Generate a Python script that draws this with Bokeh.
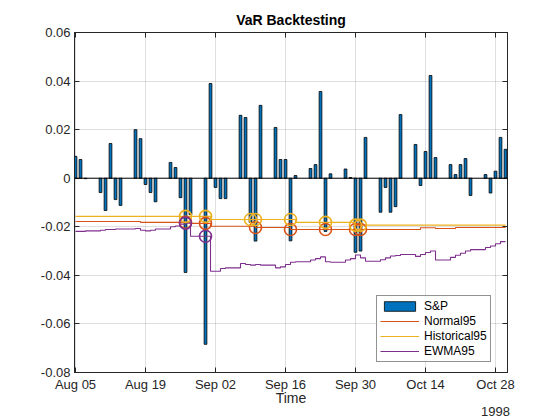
import numpy as np
import pandas as pd
from bokeh.plotting import figure
from bokeh.models import (Range1d, FixedTicker, DatetimeTickFormatter, LinearAxis, DatetimeAxis,
                          Span, Legend, LegendItem, CustomJSTickFormatter)
from bokeh.embed import file_html
from bokeh.resources import INLINE

# ---------------- data ----------------
dates = ["1998-08-05", "1998-08-06", "1998-08-07", "1998-08-10", "1998-08-11", "1998-08-12",
         "1998-08-13", "1998-08-14", "1998-08-17", "1998-08-18", "1998-08-19", "1998-08-20",
         "1998-08-21", "1998-08-24", "1998-08-25", "1998-08-26", "1998-08-27", "1998-08-28",
         "1998-08-31",
         "1998-09-01", "1998-09-02", "1998-09-03", "1998-09-04", "1998-09-07", "1998-09-08",
         "1998-09-09", "1998-09-10", "1998-09-11", "1998-09-14", "1998-09-15", "1998-09-16",
         "1998-09-17", "1998-09-18", "1998-09-21", "1998-09-22", "1998-09-23", "1998-09-24",
         "1998-09-25", "1998-09-28", "1998-09-29", "1998-09-30",
         "1998-10-01", "1998-10-02", "1998-10-05", "1998-10-06", "1998-10-07", "1998-10-08",
         "1998-10-09", "1998-10-12", "1998-10-13", "1998-10-14", "1998-10-15", "1998-10-16",
         "1998-10-19", "1998-10-20", "1998-10-21", "1998-10-22", "1998-10-23", "1998-10-26",
         "1998-10-27", "1998-10-28", "1998-10-29", "1998-10-30"]

returns = [0.0090, 0.0077, -0.0002, -0.0059, -0.0133, 0.0143, -0.0088, -0.0112, 0.0200, 0.0163,
           -0.0026, -0.0059, -0.0097, 0.0065, 0.0044, -0.0080, -0.0388, -0.0150, -0.0684,
           0.0390, -0.0038, -0.0084, -0.0084, 0.0259, 0.0250, -0.0182, -0.0259, 0.0300, 0.0209,
           0.0077, 0.0077, -0.0258, 0.0011, 0.0040, 0.0056, 0.0357, -0.0219, 0.0018, 0.0038,
           0.0003, -0.0305,
           -0.0300, 0.0168, -0.0140, -0.0038, -0.0140, -0.0117, 0.0262, 0.0139, -0.0030, 0.0110,
           0.0423, 0.0085, 0.0056, 0.0015, 0.0056, 0.0081, -0.0071, 0.0015, -0.0061, 0.0029,
           0.0168, 0.0119]

normal95 = ([-0.0178] * 9 + [-0.0182] * 8 + [-0.0186] * 2 + [-0.0198] * 7 + [-0.0203] * 5 +
            [-0.0211] * 18 + [-0.0204] * 3 + [-0.0207] * 2 + [-0.0203] * 9)

historical95 = [-0.0157] * 19 + [-0.0170] * 13 + [-0.0182] * 8 + [-0.0193] * 23

ewma95 = [-0.0219, -0.0219, -0.0217, -0.0214, -0.0211, -0.0211, -0.0209, -0.0209, -0.0207,
          -0.0214, -0.0217, -0.0214, -0.0209, -0.0200, -0.0197, -0.0189, -0.0185, -0.0239,
          -0.0239,
          -0.0383, -0.0383, -0.0372, -0.0369, -0.0351, -0.0355, -0.0358, -0.0355, -0.0358,
          -0.0369, -0.0365, -0.0355, -0.0346, -0.0344, -0.0337, -0.0331, -0.0324, -0.0344,
          -0.0346, -0.0337, -0.0331, -0.0316,
          -0.0328, -0.0342, -0.0336, -0.0328, -0.0320, -0.0318, -0.0314, -0.0322, -0.0314,
          -0.0306, -0.0300, -0.0337, -0.0326, -0.0317, -0.0309, -0.0300, -0.0294, -0.0285,
          -0.0279, -0.0270, -0.0261, -0.0261]

series_names = ["S&P", "Normal95", "Historical95", "EWMA95"]
xtick_dates = ["1998-08-05", "1998-08-19", "1998-09-02", "1998-09-16", "1998-09-30",
               "1998-10-14", "1998-10-28"]
year_tick_date = "1998-10-28"
ytick_values = [-0.08, -0.06, -0.04, -0.02, 0, 0.02, 0.04, 0.06]
ytick_labels = ["-0.08", "-0.06", "-0.04", "-0.02", "0", "0.02", "0.04", "0.06"]
title_text = "VaR Backtesting"
x_label = "Time"

# ---------------- styling ----------------
FONT = "Liberation Sans"
AX = "#262626"
C_BAR = "#0072BD"
C_NORM = "#D95319"
C_HIST = "#EDB120"
C_EWMA = "#7E2F8E"
DAY = 86400000.0


def ms(s):
    return pd.Timestamp(s).value / 1e6


dt = pd.to_datetime(dates)
x_ms = np.array([ms(d) for d in dates])
r = np.array(returns)

p = figure(width=560, height=420, x_axis_type="datetime", output_backend="svg",
           toolbar_location=None, min_border_left=74, min_border_right=53,
           min_border_top=32, min_border_bottom=48,
           x_range=Range1d(x_ms[0] - 0.2 * DAY, x_ms[-1] + 0.4 * DAY),
           y_range=Range1d(ytick_values[0], ytick_values[-1]))

p.title.text = title_text
p.title.align = "center"
p.title.text_font = FONT
p.title.text_font_size = "14px"
p.title.text_font_style = "bold"
p.title.text_color = "black"
p.title.offset = 0
p.title.standoff = 10

xticker = FixedTicker(ticks=[ms(d) for d in xtick_dates])
yticker = FixedTicker(ticks=ytick_values)
yfmt = CustomJSTickFormatter(args=dict(vals=ytick_values, labs=ytick_labels), code="""
    for (let i = 0; i < vals.length; i++) { if (Math.abs(vals[i] - tick) < 1e-9) return labs[i]; }
    return '';
""")
xfmt = DatetimeTickFormatter(days="%b %d", months="%b %d", years="%b %d", hours="%b %d")

for ax in p.xaxis:
    ax.ticker = xticker
    ax.formatter = xfmt
    ax.axis_label = x_label
for ax in p.yaxis:
    ax.ticker = yticker
    ax.formatter = yfmt

for ax in list(p.xaxis) + list(p.yaxis):
    ax.axis_line_color = AX
    ax.major_tick_line_color = AX
    ax.major_tick_in = 5
    ax.major_tick_out = 0
    ax.minor_tick_line_color = None
    ax.major_label_text_font = FONT
    ax.major_label_text_font_size = "13px"
    ax.major_label_text_color = AX
    ax.major_label_standoff = 4
    ax.axis_label_text_font = FONT
    ax.axis_label_text_font_size = "14px"
    ax.axis_label_text_font_style = "normal"
    ax.axis_label_text_color = AX
    ax.axis_label_standoff = 0
p.xaxis.major_label_standoff = 4
p.xaxis.axis_label_standoff = -5

# second axis under the first one, carrying only the year
year_ax = DatetimeAxis(ticker=FixedTicker(ticks=[ms(year_tick_date)]),
                       formatter=DatetimeTickFormatter(days="%Y", months="%Y", years="%Y"),
                       axis_line_color=None, major_tick_line_color=None,
                       minor_tick_line_color=None, major_label_standoff=-8,
                       major_label_text_font=FONT, major_label_text_font_size="13px",
                       major_label_text_color=AX)
p.add_layout(year_ax, "below")

top_ax = DatetimeAxis(ticker=xticker, formatter=xfmt, major_label_text_font_size="0px",
                      axis_line_color=AX, major_tick_line_color=AX, major_tick_in=5,
                      major_tick_out=0, minor_tick_line_color=None, major_label_standoff=0)
right_ax = LinearAxis(ticker=yticker, formatter=yfmt, major_label_text_font_size="0px",
                      axis_line_color=AX, major_tick_line_color=AX, major_tick_in=5,
                      major_tick_out=0, minor_tick_line_color=None, major_label_standoff=0)
p.add_layout(top_ax, "above")
p.add_layout(right_ax, "right")

p.xgrid.ticker = xticker
p.ygrid.ticker = yticker
p.grid.grid_line_color = AX
p.grid.grid_line_alpha = 0.15
p.outline_line_color = AX
p.background_fill_color = "white"
p.border_fill_color = "white"

# bars
bar_r = p.vbar(x=dt, top=r, bottom=0, width=0.55 * DAY, fill_color=C_BAR,
               line_color="black", line_width=0.8)
p.add_layout(Span(location=0, dimension="width", line_color="black", line_width=1))

# VaR lines
n_r = p.step(x=dt, y=normal95, mode="after", line_color=C_NORM, line_width=1.1)
h_r = p.step(x=dt, y=historical95, mode="after", line_color=C_HIST, line_width=1.1)
e_r = p.step(x=dt, y=ewma95, mode="after", line_color=C_EWMA, line_width=1.1)

# exceedances
for var, col in ((normal95, C_NORM), (historical95, C_HIST), (ewma95, C_EWMA)):
    v = np.array(var)
    m = r < v
    p.scatter(x=dt[m], y=v[m], marker="circle", size=12, fill_color=None,
              line_color=col, line_width=1.6)

legend = Legend(items=[LegendItem(label=series_names[0], renderers=[bar_r]),
                       LegendItem(label=series_names[1], renderers=[n_r]),
                       LegendItem(label=series_names[2], renderers=[h_r]),
                       LegendItem(label=series_names[3], renderers=[e_r])],
                location=(302, 10), orientation="vertical")
legend.label_text_font = FONT
legend.label_text_font_size = "12px"
legend.label_text_color = "black"
legend.glyph_width = 39
legend.glyph_height = 12
legend.label_height = 12
legend.label_standoff = 5
legend.spacing = 1
legend.padding = 3
legend.margin = 0
legend.border_line_color = AX
legend.border_line_width = 1
legend.background_fill_alpha = 1
p.add_layout(legend)

open("out.html", "w").write(file_html(p, INLINE))
